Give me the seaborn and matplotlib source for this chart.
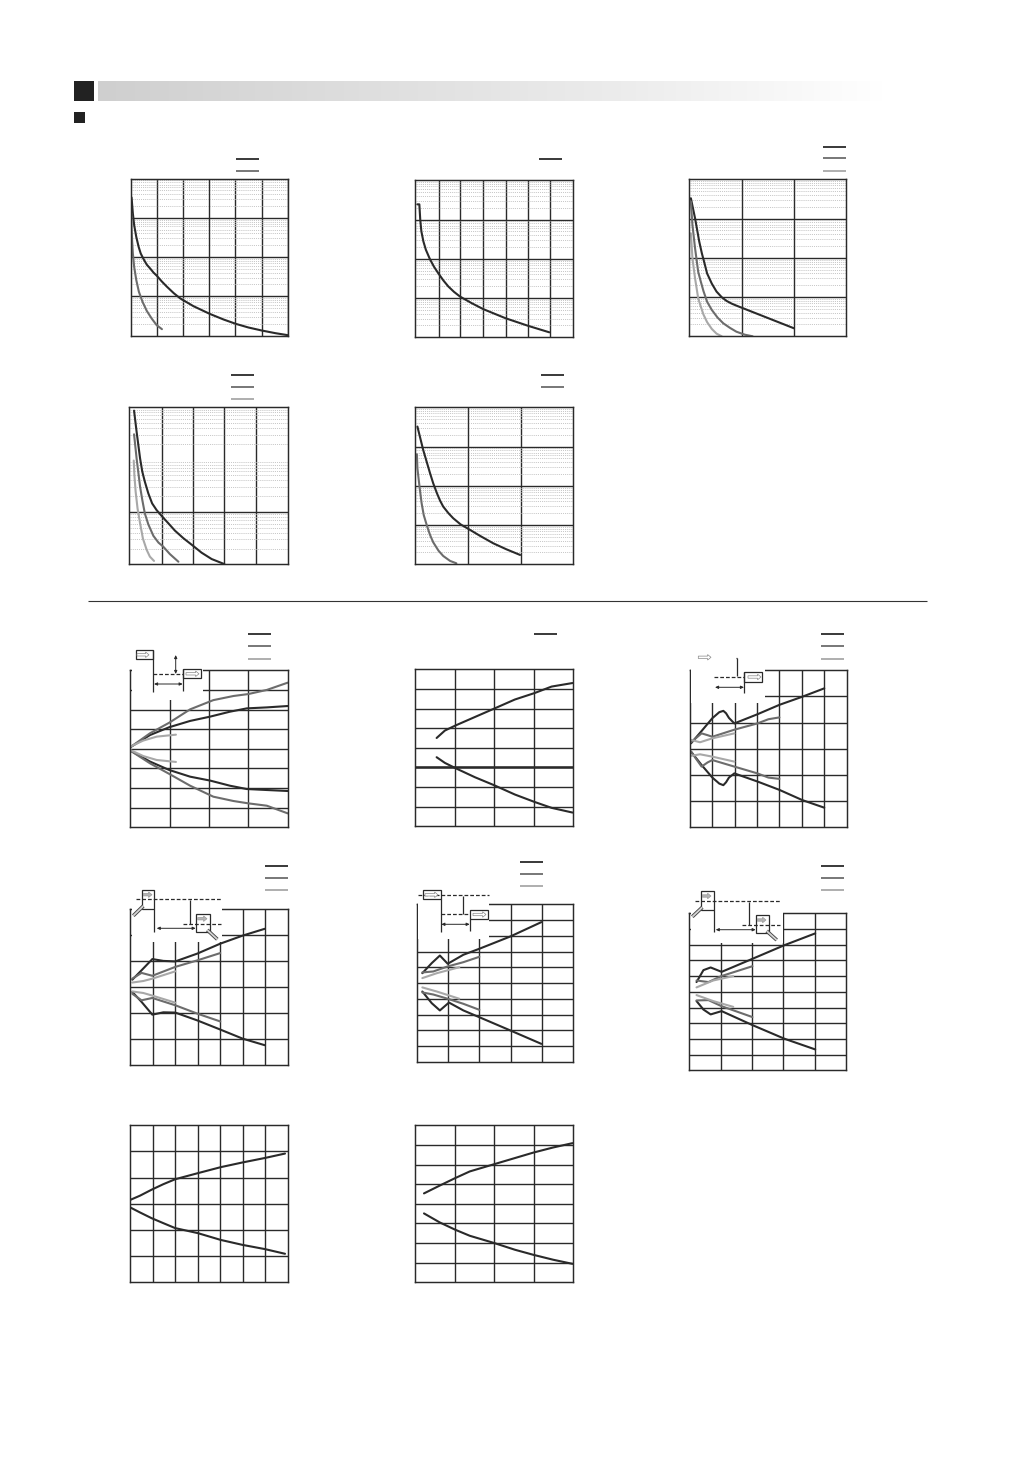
import numpy as np
import matplotlib
matplotlib.use("Agg")
import matplotlib.pyplot as plt
from matplotlib.patches import Rectangle, FancyArrow
from matplotlib.ticker import LogLocator, FixedLocator, NullFormatter
import seaborn as sns

# ---- decay curves (log y) ----
P1_K_X = [.04,.09,.14,.22,.31,.39,.50,.62,.75,.88,1.0,1.19,1.39,1.65,1.90,2.40,3.02,3.55,4.02,4.50,5.01,5.52,6.0]
P1_K_Y = [3290,1288,649,327,182,123,88,64,51,40,33.5,24,17.5,12,8.8,5.6,3.57,2.56,1.98,1.6,1.34,1.15,1.02]
P1_M_X = [.03,.04,.06,.09,.14,.22,.32,.46,.62,.81,1.0,1.2]
P1_M_Y = [1288,589,269,123,56,26,13,7.2,4.25,2.7,1.83,1.45]
P2_K_X = [.09,.18,.22,.27,.36,.47,.65,.83,1.02,1.25,1.47,1.72,1.99,2.51,3.03,4.02,5.03,5.96]
P2_K_Y = [2440,2440,990,500,277,170,98,63,43,28,19.7,14.4,10.9,7.4,5.2,3.05,1.95,1.34]
P3_K_X = [.03,.11,.19,.24,.29,.34,.43,.52,.62,.71,.81,.90,2.0]
P3_K_Y = [3290,1018,259,130,73,40,22,13.8,9.9,8,6.8,6.05,1.6]
P3_M_X = [.03,.06,.11,.17,.22,.27,.34,.43,.54,.65,.78,.90,1.06,1.21]
P3_M_Y = [2700,690,175,44,24.7,14.3,7.6,4.7,3,2.14,1.63,1.31,1.1,1.0]
P3_L_X = [.03,.06,.11,.17,.22,.27,.34,.43,.52,.62]
P3_L_Y = [422,97,30,9.3,5.7,3.6,2.3,1.54,1.17,1.0]
P4_K_X = [.15,.23,.34,.41,.49,.6,.72,.86,1.04,1.23,1.44,1.71,2.02,2.28,2.6,3.0]
P4_K_Y = [863,343,106,59,38,22.7,14.6,10.9,8.15,6.1,4.4,3.14,2.24,1.67,1.26,1.01]
P4_M_X = [.15,.23,.34,.41,.49,.6,.76,.92,1.07,1.28,1.55]
P4_M_Y = [305,106,30.5,17,9.4,5.8,3.5,2.6,2.18,1.57,1.12]
P4_L_X = [.14,.16,.2,.26,.34,.43,.55,.65,.78]
P4_L_Y = [96,51,24.5,11.7,6.1,3.1,1.88,1.4,1.16]
P5_K_X = [.04,.15,.28,.34,.41,.47,.53,.63,.72,.86,1.01,1.23,1.48,1.73,1.99]
P5_K_Y = [3230,820,209,116,65,42,29.5,20,14.9,10.4,7.95,5.3,3.43,2.41,1.73]
P5_M_X = [.03,.04,.08,.12,.16,.22,.28,.34,.44,.53,.66,.78]
P5_M_Y = [637,280,95,36,18,9.7,5.6,3.64,2.23,1.63,1.22,1.06]

# ---- deviation curves (linear y) ----
A_K_X = [0,.5,.99,1.52,2.03,2.53,2.96,3.47,4]
A_K_UP = [.08,.70,1.10,1.42,1.64,1.89,2.06,2.11,2.18]
A_K_DN = [-.09,-.65,-1.08,-1.42,-1.62,-1.88,-2.05,-2.10,-2.15]
A_M_X = [0,.5,.99,1.52,2.11,2.62,3.0,3.47,4]
A_M_UP = [.08,.79,1.33,2.01,2.48,2.69,2.79,3.0,3.37]
A_M_DN = [-.09,-.74,-1.28,-1.88,-2.44,-2.66,-2.78,-2.90,-3.29]
A_L_X = [0,.33,.67,1.16]
A_L_UP = [.11,.42,.62,.72]
A_L_DN = [-.06,-.37,-.57,-.67]

B_K_X = [.54,.75,1.01,1.51,2.0,2.52,3.02,3.45,3.98]
B_K_UP = [1.5,1.88,2.13,2.57,3.0,3.46,3.79,4.12,4.3]
B_K_DN = [.52,.23,-.03,-.50,-.91,-1.38,-1.76,-2.06,-2.3]

C_K_X = [.06,.53,1.01,1.32,1.5,1.62,1.75,1.99,3.02,4.0,5.02,6.0]
C_K_UP = [.21,.68,1.17,1.40,1.45,1.36,1.18,.97,1.32,1.68,1.99,2.31]
C_K_DN = [-.11,-.62,-1.10,-1.33,-1.39,-1.28,-1.10,-.94,-1.25,-1.57,-1.96,-2.25]
C_M_X = [.06,.53,.80,1.01,1.99,3.02,3.51,4.0]
C_M_UP = [.25,.59,.52,.46,.73,.97,1.13,1.2]
C_M_DN = [-.11,-.68,-.52,-.43,-.68,-.94,-1.10,-1.15]
C_L_X = [.06,.46,1.01,1.99]
C_L_UP = [.34,.25,.40,.59]
C_L_DN = [-.27,-.21,-.30,-.49]

D_K_X = [.09,.50,.98,1.47,2.0,2.98,4.0,5.0,5.98]
D_K_UP = [.28,.64,1.07,1.0,.98,1.28,1.66,1.97,2.23]
D_K_DN = [-.19,-.57,-1.06,-.97,-.98,-1.28,-1.63,-1.98,-2.23]
D_M_X = [.09,.50,.98,2.0,2.98,4.0]
D_M_UP = [.32,.54,.43,.77,1.02,1.30]
D_M_DN = [-.26,-.51,-.42,-.70,-1.02,-1.32]
D_L_X = [.09,.58,.98,2.0]
D_L_UP = [.17,.23,.32,.60]
D_L_DN = [-.17,-.23,-.33,-.60]

E_K_UX = [.18,.48,.74,.99,1.49,2.0,2.99,3.98]
E_K_UP = [.63,1.27,1.75,1.23,1.80,2.18,2.96,3.87]
E_K_DX = [.18,.48,.74,1.03,1.49,2.0,2.99,3.98]
E_K_DN = [-.53,-1.27,-1.73,-1.23,-1.73,-2.16,-3.0,-3.85]
E_M_X = [.18,.53,.99,1.49,2.0]
E_M_UP = [.68,.74,1.06,1.33,1.67]
E_M_DN = [-.59,-.72,-.99,-1.31,-1.69]
E_L_X = [.18,.64,1.36]
E_L_UP = [.32,.63,1.01]
E_L_DN = [-.27,-.53,-.99]

F_K_X = [.23,.45,.68,1.03,2.01,3.03,4.01]
F_K_UP = [.62,1.38,1.55,1.27,2.10,2.97,3.72]
F_K_DN = [-.59,-1.13,-1.44,-1.23,-2.12,-2.99,-3.67]
F_M_X = [.23,.61,1.02,2.01]
F_M_UP = [.72,.62,1.0,1.63]
F_M_DN = [-.55,-.53,-.91,-1.61]
F_L_X = [.23,.76,1.40]
F_L_UP = [.28,.72,1.0]
F_L_DN = [-.21,-.59,-.96]

G_K_X = [0,.43,.95,1.47,2.0,3.0,4.02,4.99,5.98,6.88]
G_K_UP = [.15,.31,.54,.75,.94,1.17,1.40,1.58,1.75,1.92]
G_K_DN = [-.14,-.33,-.55,-.74,-.93,-1.12,-1.38,-1.57,-1.73,-1.91]

H_K_X = [.22,.62,1.01,1.38,2.0,2.52,2.99,3.49,3.98]
H_K_UP = [.53,.93,1.31,1.65,2.02,2.33,2.61,2.87,3.09]
H_K_DN = [-.49,-.95,-1.32,-1.63,-2.0,-2.34,-2.6,-2.85,-3.06]

W, H = 1032, 1457
DARK, MID, LIGHT = "#2a2a2a", "#6c6c6c", "#a8a8a8"
LW = 1.5

sns.set_theme(style="white")
fig = plt.figure(figsize=(W / 100, H / 100), dpi=100, facecolor="white")


def make_axes(box, xmax, xticks, ylim, yticks, log=False):
    x0, y0, x1, y1 = box
    ax = fig.add_axes([x0 / W, 1 - y1 / H, (x1 - x0) / W, (y1 - y0) / H])
    ax.set_xlim(0, xmax)
    if log:
        ax.set_yscale("log")
    ax.set_ylim(*ylim)
    ax.xaxis.set_major_locator(FixedLocator(xticks))
    ax.yaxis.set_major_locator(FixedLocator(yticks))
    if log:
        ax.yaxis.set_minor_locator(LogLocator(base=10, subs=range(2, 10), numticks=20))
        ax.yaxis.grid(True, which="minor", color="#b4b4b4", lw=0.6, ls=(0, (1, 1.3)))
        ax.yaxis.set_minor_formatter(NullFormatter())
    ax.grid(True, which="major", color=DARK, lw=1.0)
    ax.set_axisbelow(True)
    ax.tick_params(which="both", length=0, labelbottom=False, labelleft=False)
    for s in ax.spines.values():
        s.set_color(DARK)
        s.set_linewidth(1.05)
    return ax


def curve(ax, x, y, color):
    sns.lineplot(x=x, y=y, color=color, lw=LW, ax=ax, estimator=None, sort=False,
                 legend=False, solid_joinstyle="round")


I = [1, 2, 3, 4, 5, 6, 7]
DEC = [10, 100, 1000]

ax = make_axes((130.5, 178.5, 287.7, 335.5), 6, I, (1, 1e4), DEC, True)
curve(ax, P1_K_X, P1_K_Y, DARK)
curve(ax, P1_M_X, P1_M_Y, MID)

ax = make_axes((415.3, 180.3, 572.7, 337.3), 7, [1.04, 1.97, 3.0, 4.02, 5.03, 5.98], (1, 1e4), DEC, True)
curve(ax, P2_K_X, P2_K_Y, DARK)

ax = make_axes((689.3, 179.3, 846.3, 336.3), 3, [1, 2], (1, 1e4), DEC, True)
curve(ax, P3_K_X, P3_K_Y, DARK)
curve(ax, P3_M_X, P3_M_Y, MID)
curve(ax, P3_L_X, P3_L_Y, LIGHT)

ax = make_axes((129.3, 407.3, 287.7, 564.3), 5, [1.04, 2.02, 3.0, 4.01], (1, 1e3), [10], True)
curve(ax, P4_K_X, P4_K_Y, DARK)
curve(ax, P4_M_X, P4_M_Y, MID)
curve(ax, P4_L_X, P4_L_Y, LIGHT)

ax = make_axes((415.3, 407.3, 573.3, 564.3), 3, [1, 2], (1, 1e4), DEC, True)
curve(ax, P5_K_X, P5_K_Y, DARK)
curve(ax, P5_M_X, P5_M_Y, MID)

ax = make_axes((130.3, 670.3, 287.7, 827.3), 4, [1, 2, 3], (-4, 4), [-3, -2, -1, 0, 1, 2, 3])
for x, u, d, c in [(A_K_X, A_K_UP, A_K_DN, DARK), (A_M_X, A_M_UP, A_M_DN, MID), (A_L_X, A_L_UP, A_L_DN, LIGHT)]:
    curve(ax, x, u, c)
    curve(ax, x, d, c)

ax = make_axes((415.3, 669.3, 573.3, 826.3), 4, [1, 2, 3], (-3, 5), [-2, -1, 0, 1, 2, 3, 4])
ax.axhline(0, color=DARK, lw=1.8)
curve(ax, B_K_X, B_K_UP, DARK)
curve(ax, B_K_X, B_K_DN, DARK)

ax = make_axes((689.7, 670.3, 846.7, 827.3), 7, [1, 2, 3, 4, 5, 6], (-3, 3), [-2, -1, 0, 1, 2])
for x, u, d, c in [(C_K_X, C_K_UP, C_K_DN, DARK), (C_M_X, C_M_UP, C_M_DN, MID), (C_L_X, C_L_UP, C_L_DN, LIGHT)]:
    curve(ax, x, u, c)
    curve(ax, x, d, c)

ax = make_axes((130.3, 908.7, 287.7, 1065.3), 7, [1, 2, 3, 4, 5, 6], (-3, 3), [-2, -1, 0, 1, 2])
for x, u, d, c in [(D_K_X, D_K_UP, D_K_DN, DARK), (D_M_X, D_M_UP, D_M_DN, MID), (D_L_X, D_L_UP, D_L_DN, LIGHT)]:
    curve(ax, x, u, c)
    curve(ax, x, d, c)

ax = make_axes((416.7, 904.3, 573.3, 1062), 5, [1, 2, 3, 4], (-5, 5), [-4, -3, -2, -1, 0, 1, 2, 3, 4])
curve(ax, E_K_UX, E_K_UP, DARK)
curve(ax, E_K_DX, E_K_DN, DARK)
for x, u, d, c in [(E_M_X, E_M_UP, E_M_DN, MID), (E_L_X, E_L_UP, E_L_DN, LIGHT)]:
    curve(ax, x, u, c)
    curve(ax, x, d, c)

ax = make_axes((689.3, 913.3, 846.3, 1070.3), 5, [1, 2, 3, 4], (-5, 5), [-4, -3, -2, -1, 0, 1, 2, 3, 4])
for x, u, d, c in [(F_K_X, F_K_UP, F_K_DN, DARK), (F_M_X, F_M_UP, F_M_DN, MID), (F_L_X, F_L_UP, F_L_DN, LIGHT)]:
    curve(ax, x, u, c)
    curve(ax, x, d, c)

ax = make_axes((130.3, 1125.3, 287.7, 1282.3), 7, [1, 2, 3, 4, 5, 6], (-3, 3), [-2, -1, 0, 1, 2])
curve(ax, G_K_X, G_K_UP, DARK)
curve(ax, G_K_X, G_K_DN, DARK)

ax = make_axes((415.3, 1125.3, 573.3, 1282.3), 4, [1, 2, 3], (-4, 4), [-3, -2, -1, 0, 1, 2, 3])
curve(ax, H_K_X, H_K_UP, DARK)
curve(ax, H_K_X, H_K_DN, DARK)

# ---- page furniture in pixel coordinates ----
pg = fig.add_axes([0, 0, 1, 1], facecolor="none")
pg.set_xlim(0, W)
pg.set_ylim(H, 0)
pg.axis("off")


def rect(x0, y0, x1, y1, fc="none", ec=DARK, lw=0.9, z=5):
    pg.add_patch(Rectangle((x0, y0), x1 - x0, y1 - y0, fc=fc, ec=ec, lw=lw, zorder=z))


def seg(xs, ys, color=DARK, lw=0.9, ls="-", z=6):
    pg.plot(xs, ys, color=color, lw=lw, ls=ls, zorder=z, solid_capstyle="butt")


def block(x0, x1, y, fc="white", ec="#888888"):
    pg.add_patch(FancyArrow(x0, y, x1 - x0, 0, width=2.4, head_width=5.5, head_length=3.4,
                            length_includes_head=True, fc=fc, ec=ec, lw=0.5, zorder=7))


def dbl(x0, x1, y):
    pg.annotate("", xy=(x1, y), xytext=(x0, y), zorder=6,
                arrowprops=dict(arrowstyle="<|-|>,head_width=0.07,head_length=0.15", color=DARK,
                                lw=0.7, shrinkA=0, shrinkB=0))


def vdbl(x, y0, y1):
    pg.annotate("", xy=(x, y1), xytext=(x, y0), zorder=6,
                arrowprops=dict(arrowstyle="<|-|>,head_width=0.07,head_length=0.15", color=DARK,
                                lw=0.7, shrinkA=0, shrinkB=0))


def pen(x0, y0, x1, y1):
    seg([x0, x1], [y0, y1], color="#444444", lw=2.6, z=7)
    seg([x0, x1], [y0, y1], color="#d4d4d4", lw=1.3, z=8)


DASH = (0, (3, 1.6))

# header
pg.add_patch(Rectangle((74, 81), 19.5, 20, fc="#222222", ec="none"))
pg.add_patch(Rectangle((74, 112), 11, 11, fc="#222222", ec="none"))
grad = np.linspace(0, 1, 256).reshape(1, -1)
pg.imshow(grad, extent=(98, 885, 101, 81), cmap=matplotlib.colors.LinearSegmentedColormap.from_list(
    "hdr", ["#cfcfcf", "#dedede", "#ececec", "#ffffff"]), aspect="auto", zorder=1)
pg.set_xlim(0, W)
pg.set_ylim(H, 0)
seg([88, 927], [600.5, 600.5], color="#333333", lw=0.8)

# legend swatches
SWATCHES = [
    (236, [159, 171], [DARK, MID]), (539, [158.5], [DARK]),
    (823, [146.7, 158.3, 170.7], [DARK, MID, LIGHT]),
    (231, [375, 387, 399], [DARK, MID, LIGHT]), (541, [375, 387], [DARK, MID]),
    (248, [634.3, 646.3, 659], [DARK, MID, LIGHT]), (534, [634.3], [DARK]),
    (821, [634.3, 646.3, 659], [DARK, MID, LIGHT]),
    (265, [865.7, 878, 890.3], [DARK, MID, LIGHT]),
    (520, [862, 874, 886.3], [DARK, MID, LIGHT]),
    (821, [865.7, 878, 890.3], [DARK, MID, LIGHT]),
]
for x, ys, cs in SWATCHES:
    for y, c in zip(ys, cs):
        seg([x, x + 23], [y, y], color=c, lw=1.3)

# inset A
rect(131.7, 667, 203, 699.5, fc="white", ec="none")
rect(136, 650.3, 153.3, 659.3)
seg([153.3, 153.3], [650.3, 691.7])
seg([153.3, 183.3], [674, 674], ls=DASH)
rect(183.3, 669.3, 200.7, 678.3)
seg([183.3, 183.3], [669.3, 690.7])
vdbl(175.7, 655, 674)
dbl(154, 182.7, 684)
block(137, 149, 654.8)
block(186, 199, 673.8)

# inset C
rect(691, 667, 765, 703, fc="white", ec="none")
block(698.3, 711, 657.3)
seg([737.3, 737.3], [658, 675.7])
seg([735.5, 737.3], [658, 658])
seg([714.3, 744.3], [677.3, 677.3], ls=DASH)
rect(744.3, 672.3, 762.3, 681.7)
seg([744.3, 744.3], [672.3, 693.3])
dbl(715, 744, 687.3)
block(748, 761, 677)

# inset D
rect(131.7, 905, 221.7, 942, fc="white", ec="none")
rect(142.3, 890.3, 154.3, 908.7)
seg([154.3, 154.3], [908.7, 931.7])
seg([136, 220.7], [899.3, 899.3], ls=DASH)
seg([190.3, 190.3], [900, 924])
seg([182.7, 220.7], [924.3, 924.3], ls=DASH)
rect(196.3, 914.3, 209.7, 932.3)
dbl(156.7, 195.7, 928.3)
pen(133.3, 915.7, 143.3, 906)
pen(207.3, 930, 217.3, 939.3)
block(143.3, 152, 894.7, fc="#b5b5b5", ec="#999999")
block(197.7, 207, 918.7, fc="#b5b5b5", ec="#999999")

# inset E
rect(418.3, 900, 489.3, 939, fc="white", ec="none")
rect(423.3, 890.3, 440.7, 899.3)
seg([440.7, 440.7], [899.3, 931.7])
seg([418.3, 489.3], [895.3, 895.3], ls=DASH)
seg([462.7, 462.7], [896, 914.3])
seg([440.7, 470.3], [914.3, 914.3], ls=DASH)
rect(470.3, 910.3, 487.7, 918.7)
seg([470.3, 470.3], [918.7, 931])
dbl(441.3, 469.7, 924.3)
block(425, 438, 894.8)
block(473, 486, 914.5)

# inset F
rect(691, 910, 782.7, 943.3, fc="white", ec="none")
rect(701.3, 891.3, 714.3, 909.7)
seg([714.3, 714.3], [909.7, 932.3])
seg([695, 780], [901.3, 901.3], ls=DASH)
seg([749.3, 749.3], [901.7, 925])
seg([742.3, 780], [925.3, 925.3], ls=DASH)
rect(756.3, 915.3, 769, 933.3)
dbl(715.7, 755.7, 929.7)
pen(692.3, 916.7, 702.3, 907.3)
pen(766.7, 931, 776.7, 940)
block(702.3, 711, 896, fc="#b5b5b5", ec="#999999")
block(757.3, 766, 920, fc="#b5b5b5", ec="#999999")

fig.savefig("out.png", dpi=100, facecolor="white")
